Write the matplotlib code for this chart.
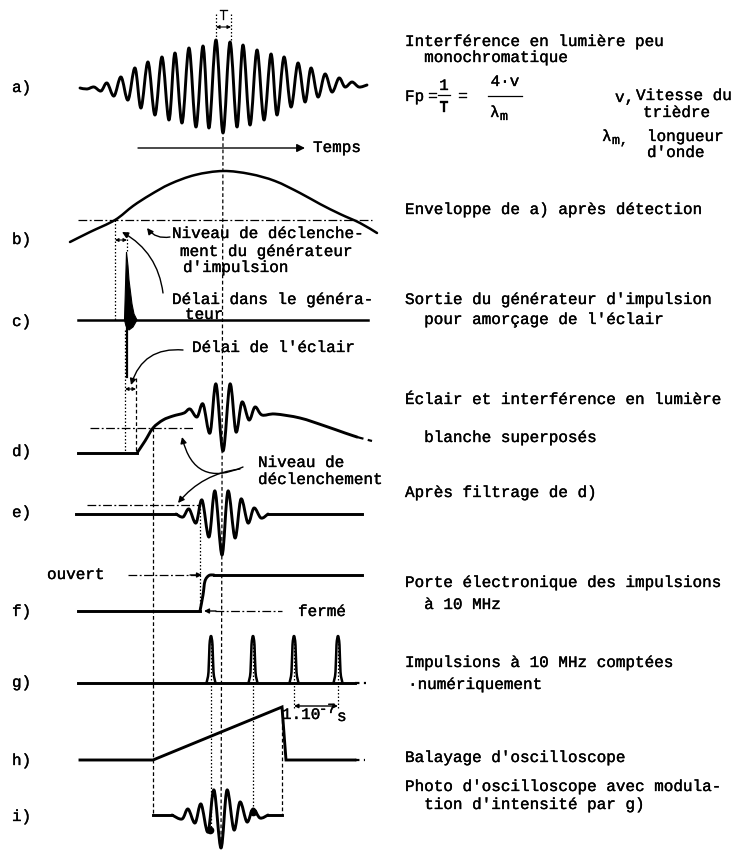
import numpy as np
import matplotlib.pyplot as plt
import matplotlib.patheffects as pe
from matplotlib.path import Path
from matplotlib.patches import PathPatch

plt.rcParams['font.family'] = ['Liberation Mono', 'DejaVu Sans Mono']
FS = 11.5

# ---- traces (pixel units, y downwards) ----
# a) fringes in quasi-monochromatic light : extrema of the trace
a_x = [80, 87, 94, 101, 107, 114, 121, 128, 135, 141, 148, 155, 162, 169, 175, 182,
       189, 196, 203, 209, 216, 223, 230, 237, 243, 250, 257, 264, 271, 277, 284, 291,
       298, 305, 311, 318, 325, 332, 339, 345, 352, 359, 367]
a_y = [88, 89, 87, 91, 83, 96, 77, 100, 68, 108, 62, 115, 57, 120, 53, 123,
       48, 127, 46, 128, 40, 133, 42, 127, 45, 125, 50, 120, 54, 115, 57, 107,
       63, 102, 68, 97, 74, 92, 78, 87, 82, 87, 85]
# b) envelope
b_x = [70, 90, 115, 133, 150, 170, 195, 223, 250, 275, 300, 320, 340, 360, 377]
b_y = [242, 232, 220, 206, 195, 184, 175, 171, 174, 181, 193, 204, 214, 223, 233]
b_level = 220
# c) trigger pulse (filled spike + negative overshoot)
c_base = 320
c_fill_x = [124.5, 126.5, 128, 129, 130.5, 132, 134, 137, 133, 129, 126]
c_fill_y = [320, 252, 266, 280, 292, 304, 314, 320, 327, 330, 326]
c_neg_x, c_neg_y = 126.5, 377
# d) flash + white light fringes
d_x = [137, 145, 153, 163, 173, 184, 190, 197, 203, 210, 216, 223, 230, 236, 242,
       249, 255, 262, 275, 300, 325, 345, 357]
d_y = [453, 441, 428, 420, 416, 413, 409, 417, 404, 433, 384, 451, 384, 432, 402,
       420, 407, 415, 414, 418, 426, 433, 437]
d_start, d_base = 78, 453
d_level = 428
# e) after filtering
e_x = [176, 183, 189, 196, 202, 209, 215, 222, 228, 235, 241, 248, 254, 261, 268]
e_y = [514, 517, 509, 523, 500, 537, 491, 555, 491, 538, 499, 523, 508, 518, 514]
e_start, e_end, e_base = 76, 362, 514
e_level = 505
# f) gate
f_closed, f_open = 611, 575
f_step_x = [200, 203, 205, 209, 214]
f_step_y = [611, 595, 581, 575.5, 575]
# g) 10 MHz pulses
g_pulses = [211, 253, 294, 338]
g_base, g_top = 683, 636
# h) sweep
h_x = [80, 153, 282, 286, 355]
h_y = [760, 760, 707, 760, 760]
# i) scope photo
i_x = [172, 182, 188, 195, 201, 208, 214, 221, 227, 234, 240, 247, 253, 260, 268]
i_y = [815, 819, 809, 823, 804, 832, 790, 848, 790, 830, 802, 822, 809, 818, 815]
i_start, i_end, i_base = 153, 282, 815
i_dots_x = [210, 253]
i_dots_y = [830, 812]

panel_labels = ['a)', 'b)', 'c)', 'd)', 'e)', 'f)', 'g)', 'h)', 'i)']
panel_label_y = [92, 244, 326, 456, 517, 616, 687, 765, 821]

note_text = ["Interférence en lumière peu", "  monochromatique",
             "Enveloppe de a) après détection",
             "Sortie du générateur d'impulsion", "  pour amorçage de l'éclair",
             "Éclair et interférence en lumière", "  blanche superposés",
             "Après filtrage de d)",
             "Porte électronique des impulsions", "  à 10 MHz",
             "Impulsions à 10 MHz comptées", "·numériquement",
             "Balayage d'oscilloscope",
             "Photo d'oscilloscope avec modula-", "  tion d'intensité par g)"]
note_x = [405, 405, 405, 405, 405, 405, 405, 405, 405, 405, 405, 408, 405, 405, 405]
note_y = [46, 62, 214, 304, 324, 404, 442, 497, 587, 609, 667, 689, 762, 791, 809]

INK = [pe.withStroke(linewidth=0.25, foreground='k')]


def smooth(ax, xs, ys, lw=2.1, ls='-'):
    pts = np.column_stack([xs, ys]).astype(float)
    n = len(pts)
    verts = [pts[0]]
    codes = [Path.MOVETO]
    for k in range(n - 1):
        p0 = pts[max(k - 1, 0)]
        p1 = pts[k]
        p2 = pts[k + 1]
        p3 = pts[min(k + 2, n - 1)]
        verts += [p1 + (p2 - p0) / 6, p2 - (p3 - p1) / 6, p2]
        codes += [Path.CURVE4] * 3
    ax.add_patch(PathPatch(Path(verts, codes), fill=False, lw=lw, ls=ls,
                           capstyle='round', joinstyle='round', color='k'))


def txt(ax, x, y, s, **kw):
    ax.text(x, y, s, fontsize=kw.pop('fontsize', FS), va='baseline',
            ha=kw.pop('ha', 'left'), path_effects=INK, **kw)


def arrow(ax, tail, tip, rad=0.0, style='-|>', ms=9, lw=1.0):
    ax.annotate('', xy=tip, xytext=tail,
                arrowprops=dict(arrowstyle=style, lw=lw, color='k', mutation_scale=ms,
                                shrinkA=0, shrinkB=0, connectionstyle='arc3,rad=%g' % rad))


fig = plt.figure(figsize=(7.33, 8.5), dpi=100)
ax = fig.add_axes([0, 0, 1, 1])
ax.set_xlim(0, 733)
ax.set_ylim(850, 0)
ax.axis('off')

DASH = (0, (3, 2))
DOT = (0, (1.2, 1.6))
DASHDOT = (0, (7, 2, 1.5, 2))
thin = 0.9

# a)
smooth(ax, a_x, a_y)
ax.plot([216, 216], [14, 40], 'k', lw=thin, ls=DOT)
ax.plot([231, 231], [14, 40], 'k', lw=thin, ls=DOT)
arrow(ax, (216, 27), (231, 27), style='<|-|>', ms=5, lw=0.8)
txt(ax, 223.5, 20, 'T', ha='center', fontsize=11)
arrow(ax, (138, 148), (305, 148), ms=12, lw=1.0)
txt(ax, 313, 152, 'Temps')

# center line
ax.plot([223, 221], [137, 846], 'k', lw=thin, ls=DASH)

# b)
smooth(ax, b_x, b_y, lw=1.8)
ax.plot([78, 372], [b_level, b_level], 'k', lw=thin, ls=DASHDOT)
ax.plot([115, 115], [b_level, c_base], 'k', lw=thin, ls=DOT)
ax.plot([127, 127], [232, 252], 'k', lw=thin, ls=DOT)
arrow(ax, (115, 240), (127, 240), style='<|-|>', ms=5, lw=0.8)
arrow(ax, (170, 237), (147, 228), rad=-0.3)
txt(ax, 172, 238, "Niveau de déclenche-")
txt(ax, 180, 256, "ment du générateur")
txt(ax, 183, 272, "d'impulsion")

# c)
ax.plot([78, 368], [c_base, c_base], 'k', lw=1.8)
ax.fill(c_fill_x, c_fill_y, color='k', lw=0.8)
ax.plot([c_neg_x, c_neg_x], [c_base, c_neg_y], 'k', lw=1.6)
arrow(ax, (163, 293), (122, 232), rad=0.25)
txt(ax, 172, 304, "Délai dans le généra-")
txt(ax, 185, 319, "teur")
arrow(ax, (183, 350), (131, 385), rad=0.4)
txt(ax, 192, 352, "Délai de l'éclair")
ax.plot([125, 125], [330, d_base], 'k', lw=thin, ls=DOT)
ax.plot([136, 136], [378, d_base], 'k', lw=thin, ls=DASH)
arrow(ax, (125, 389), (136, 389), style='<|-|>', ms=5, lw=0.8)

# d)
ax.plot([d_start, d_x[0]], [d_base, d_base], 'k', lw=2.1)
smooth(ax, d_x, d_y)
ax.plot([d_x[-1], 372], [d_y[-1], 441], 'k', lw=1.6, ls=(0, (3, 2)))
ax.plot([90, 195], [d_level, d_level], 'k', lw=thin, ls=DASHDOT)
ax.plot([153, 153], [d_level, i_base], 'k', lw=thin, ls=DASH)
arrow(ax, (243, 467), (182, 437), rad=-0.6)
arrow(ax, (240, 469), (178, 503), rad=0.2)
txt(ax, 258, 467, "Niveau de")
txt(ax, 258, 484, "déclenchement")

# e)
ax.plot([e_start, e_x[0]], [e_base, e_base], 'k', lw=2.1)
smooth(ax, e_x, e_y)
ax.plot([e_x[-1], e_end], [e_base, e_base], 'k', lw=2.1)
ax.plot([87, 200], [e_level, e_level], 'k', lw=thin, ls=DASHDOT)
ax.plot([200, 200], [e_level, f_closed], 'k', lw=thin, ls=DOT)

# f)
ax.plot([78, f_step_x[0]], [f_closed, f_closed], 'k', lw=2.1)
smooth(ax, f_step_x, f_step_y)
ax.plot([f_step_x[-1], 362], [f_open, f_open], 'k', lw=2.1)
ax.plot([128, 198], [f_open, f_open], 'k', lw=thin, ls=DASHDOT)
arrow(ax, (190, f_open), (202, f_open), ms=7)
ax.plot([215, 282], [f_closed, f_closed], 'k', lw=thin, ls=DASHDOT)
arrow(ax, (216, f_closed), (204, f_closed), ms=7)
txt(ax, 47, 579, "ouvert")
txt(ax, 298, 616, "fermé")

# g)
ax.plot([78, 355], [g_base, g_base], 'k', lw=2.1)
ax.plot([355, 366], [g_base, g_base], 'k', lw=1.6, ls=(0, (2, 2)))
for c in g_pulses:
    smooth(ax, [c - 4.5, c - 2.5, c - 1.5, c, c + 1.5, c + 2.5, c + 4.5],
           [g_base, g_base - 11, g_top + 9, g_top, g_top + 9, g_base - 11, g_base], lw=1.8)
for c, y1 in zip(g_pulses, [828, 812, 710, 710]):
    ax.plot([c, c], [g_top + 4, y1], 'k', lw=thin, ls=DOT)
arrow(ax, (g_pulses[2], 706), (g_pulses[3], 706), style='<|-|>', ms=6, lw=1.0)
txt(ax, 282, 719, "1.10")
txt(ax, 319, 713, "-7", fontsize=10)
txt(ax, 337, 721, "s")

# h)
ax.plot(h_x, h_y, 'k', lw=2.1, solid_joinstyle='miter')
ax.plot([355, 365], [h_y[-1], h_y[-1]], 'k', lw=1.6, ls=(0, (2, 2)))
ax.plot([h_x[2], h_x[2]], [h_y[2], i_base], 'k', lw=thin, ls=DASH)

# i)
ax.plot([i_start, i_x[0]], [i_base, i_base], 'k', lw=2.1)
smooth(ax, i_x, i_y)
ax.plot([i_x[-1], i_end], [i_base, i_base], 'k', lw=2.1)
ax.plot(i_dots_x, i_dots_y, 'ko', ms=4.5)

# formula block
txt(ax, 405, 101, "Fp")
txt(ax, 433, 101, "=", ha='center')
txt(ax, 444, 90, "1", ha='center')
ax.plot([438, 450], [95, 95], 'k', lw=0.9)
txt(ax, 444, 112, "T", ha='center')
txt(ax, 463, 101, "=", ha='center')
txt(ax, 505, 86, "4·v", ha='center')
ax.plot([488, 522], [96, 96], 'k', lw=0.9)
txt(ax, 490, 117, "λ")
txt(ax, 500, 120, "m", fontsize=9.5)
txt(ax, 615, 102, "v,")
txt(ax, 636, 100, "Vitesse du")
txt(ax, 643, 117, "trièdre")
txt(ax, 602, 141, "λ")
txt(ax, 612, 144, "m,", fontsize=9.5)
txt(ax, 647, 141, "longueur")
txt(ax, 647, 157, "d'onde")

for lab, y in zip(panel_labels, panel_label_y):
    txt(ax, 12, y, lab)
for s, x, y in zip(note_text, note_x, note_y):
    txt(ax, x, y, s)

fig.savefig('out.png', dpi=100)
